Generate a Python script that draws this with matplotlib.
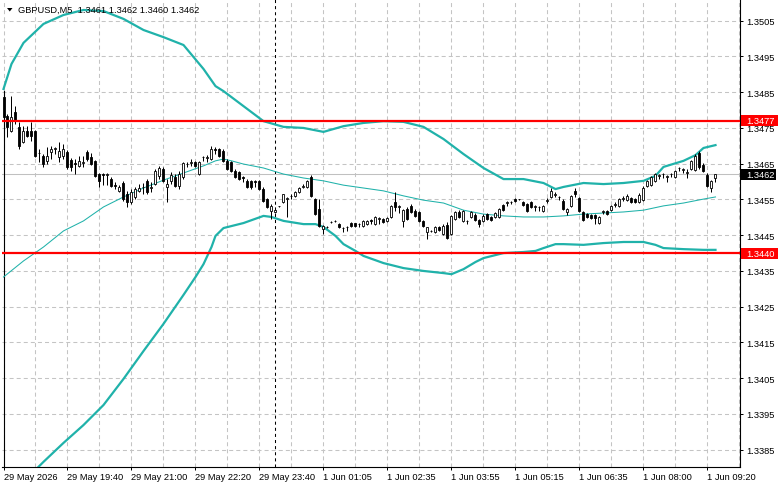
import matplotlib
matplotlib.use("Agg")
import matplotlib.pyplot as plt
import matplotlib.transforms as mtransforms
from matplotlib.patches import Rectangle, Polygon

plt.rcParams['font.family'] = ['Liberation Sans', 'DejaVu Sans']
plt.rcParams['lines.scale_dashes'] = False

# ---------------- data ----------------
symbol = "GBPUSD,M5"
last_ohlc = [1.3461, 1.3462, 1.3460, 1.3462]

open_ = [1.34836, 1.34783, 1.34741, 1.34795, 1.34753, 1.34711, 1.34741, 1.34741, 1.34741, 1.34680,
         1.34671, 1.34658, 1.34683, 1.34691, 1.34669, 1.34671, 1.34683, 1.34660, 1.34652, 1.34644,
         1.34652, 1.34683, 1.34669, 1.34658, 1.34621, 1.34621, 1.34618, 1.34607, 1.34590, 1.34574,
         1.34596, 1.34565, 1.34543, 1.34557, 1.34574, 1.34585, 1.34602, 1.34582, 1.34593, 1.34616,
         1.34635, 1.34585, 1.34602, 1.34613, 1.34588, 1.34613, 1.34649, 1.34652, 1.34655, 1.34621,
         1.34669, 1.34666, 1.34663, 1.34691, 1.34691, 1.34686, 1.34658, 1.34655, 1.34630, 1.34627,
         1.34613, 1.34602, 1.34602, 1.34602, 1.34602, 1.34579, 1.34551, 1.34518, 1.34515, 1.34532,
         1.34543, 1.34551, 1.34560, 1.34560, 1.34571, 1.34585, 1.34585, 1.34613, 1.34551, 1.34523,
         1.34467, 1.34473, 1.34487, 1.34490, 1.34481, 1.34470, 1.34473, 1.34484, 1.34484, 1.34481,
         1.34476, 1.34481, 1.34492, 1.34481, 1.34495, 1.34495, 1.34490, 1.34501, 1.34543, 1.34529,
         1.34490, 1.34523, 1.34532, 1.34518, 1.34515, 1.34490, 1.34459, 1.34462, 1.34459, 1.34473,
         1.34453, 1.34478, 1.34453, 1.34495, 1.34515, 1.34490, 1.34490, 1.34501, 1.34506, 1.34492,
         1.34490, 1.34509, 1.34501, 1.34501, 1.34501, 1.34534, 1.34540, 1.34543, 1.34551, 1.34551,
         1.34543, 1.34537, 1.34543, 1.34529, 1.34529, 1.34518, 1.34546, 1.34557, 1.34562, 1.34557,
         1.34546, 1.34515, 1.34532, 1.34574, 1.34554, 1.34515, 1.34509, 1.34506, 1.34506, 1.34484,
         1.34515, 1.34518, 1.34520, 1.34534, 1.34532, 1.34551, 1.34548, 1.34554, 1.34551, 1.34543,
         1.34548, 1.34588, 1.34590, 1.34602, 1.34616, 1.34621, 1.34613, 1.34621, 1.34613, 1.34638,
         1.34632, 1.34624, 1.34635, 1.34632, 1.34680, 1.34646, 1.34618, 1.34582, 1.34610]

high = [1.34850, 1.34789, 1.34839, 1.34811, 1.34767, 1.34755, 1.34755, 1.34767, 1.34744, 1.34691,
        1.34677, 1.34697, 1.34699, 1.34697, 1.34711, 1.34705, 1.34688, 1.34666, 1.34663, 1.34671,
        1.34671, 1.34688, 1.34680, 1.34660, 1.34624, 1.34624, 1.34624, 1.34613, 1.34599, 1.34590,
        1.34602, 1.34574, 1.34579, 1.34585, 1.34593, 1.34596, 1.34607, 1.34599, 1.34635, 1.34644,
        1.34641, 1.34607, 1.34627, 1.34621, 1.34630, 1.34655, 1.34655, 1.34663, 1.34658, 1.34658,
        1.34671, 1.34674, 1.34699, 1.34697, 1.34694, 1.34691, 1.34663, 1.34658, 1.34635, 1.34630,
        1.34616, 1.34607, 1.34604, 1.34604, 1.34604, 1.34585, 1.34554, 1.34537, 1.34529, 1.34533,
        1.34565, 1.34557, 1.34565, 1.34574, 1.34585, 1.34593, 1.34604, 1.34618, 1.34554, 1.34551,
        1.34478, 1.34476, 1.34490, 1.34492, 1.34484, 1.34473, 1.34476, 1.34487, 1.34485, 1.34484,
        1.34492, 1.34492, 1.34495, 1.34504, 1.34501, 1.34498, 1.34501, 1.34534, 1.34571, 1.34534,
        1.34523, 1.34529, 1.34537, 1.34523, 1.34518, 1.34492, 1.34473, 1.34464, 1.34476, 1.34476,
        1.34481, 1.34487, 1.34506, 1.34518, 1.34520, 1.34520, 1.34492, 1.34518, 1.34512, 1.34495,
        1.34509, 1.34512, 1.34504, 1.34515, 1.34526, 1.34537, 1.34546, 1.34546, 1.34554, 1.34552,
        1.34546, 1.34540, 1.34546, 1.34534, 1.34532, 1.34534, 1.34554, 1.34582, 1.34571, 1.34560,
        1.34551, 1.34526, 1.34562, 1.34582, 1.34557, 1.34518, 1.34512, 1.34509, 1.34509, 1.34504,
        1.34520, 1.34520, 1.34534, 1.34543, 1.34554, 1.34560, 1.34565, 1.34557, 1.34554, 1.34568,
        1.34588, 1.34604, 1.34616, 1.34624, 1.34621, 1.34624, 1.34618, 1.34624, 1.34632, 1.34641,
        1.34638, 1.34635, 1.34660, 1.34677, 1.34686, 1.34652, 1.34624, 1.34604, 1.34620]

low = [1.34761, 1.34725, 1.34738, 1.34761, 1.34691, 1.34708, 1.34725, 1.34713, 1.34669, 1.34655,
       1.34641, 1.34649, 1.34663, 1.34677, 1.34655, 1.34663, 1.34635, 1.34630, 1.34621, 1.34641,
       1.34641, 1.34658, 1.34646, 1.34613, 1.34585, 1.34590, 1.34590, 1.34585, 1.34579, 1.34571,
       1.34546, 1.34529, 1.34537, 1.34551, 1.34571, 1.34565, 1.34565, 1.34571, 1.34590, 1.34607,
       1.34599, 1.34543, 1.34593, 1.34585, 1.34579, 1.34607, 1.34641, 1.34644, 1.34641, 1.34618,
       1.34658, 1.34655, 1.34660, 1.34677, 1.34669, 1.34655, 1.34632, 1.34627, 1.34610, 1.34604,
       1.34599, 1.34582, 1.34579, 1.34585, 1.34576, 1.34543, 1.34526, 1.34495, 1.34512, 1.34529,
       1.34540, 1.34501, 1.34551, 1.34557, 1.34568, 1.34582, 1.34582, 1.34557, 1.34506, 1.34473,
       1.34453, 1.34470, 1.34484, 1.34487, 1.34470, 1.34459, 1.34462, 1.34473, 1.34473, 1.34473,
       1.34473, 1.34478, 1.34481, 1.34478, 1.34481, 1.34484, 1.34487, 1.34498, 1.34518, 1.34512,
       1.34473, 1.34492, 1.34512, 1.34501, 1.34487, 1.34473, 1.34439, 1.34459, 1.34456, 1.34462,
       1.34450, 1.34439, 1.34450, 1.34492, 1.34498, 1.34487, 1.34481, 1.34498, 1.34490, 1.34473,
       1.34487, 1.34492, 1.34490, 1.34498, 1.34498, 1.34518, 1.34532, 1.34537, 1.34543, 1.34548,
       1.34532, 1.34515, 1.34526, 1.34518, 1.34518, 1.34515, 1.34540, 1.34554, 1.34557, 1.34548,
       1.34520, 1.34506, 1.34529, 1.34557, 1.34515, 1.34490, 1.34498, 1.34495, 1.34481, 1.34481,
       1.34509, 1.34506, 1.34518, 1.34529, 1.34529, 1.34546, 1.34546, 1.34540, 1.34540, 1.34540,
       1.34546, 1.34585, 1.34588, 1.34599, 1.34607, 1.34610, 1.34599, 1.34613, 1.34610, 1.34630,
       1.34624, 1.34610, 1.34632, 1.34630, 1.34635, 1.34627, 1.34585, 1.34571, 1.34600]

close = [1.34781, 1.34753, 1.34781, 1.34772, 1.34699, 1.34741, 1.34727, 1.34727, 1.34671, 1.34680,
         1.34649, 1.34671, 1.34691, 1.34694, 1.34686, 1.34691, 1.34641, 1.34641, 1.34649, 1.34658,
         1.34655, 1.34663, 1.34649, 1.34616, 1.34602, 1.34618, 1.34621, 1.34588, 1.34588, 1.34585,
         1.34551, 1.34543, 1.34571, 1.34579, 1.34582, 1.34584, 1.34571, 1.34585, 1.34630, 1.34638,
         1.34602, 1.34593, 1.34618, 1.34588, 1.34621, 1.34652, 1.34650, 1.34655, 1.34644, 1.34655,
         1.34668, 1.34669, 1.34691, 1.34688, 1.34671, 1.34658, 1.34635, 1.34630, 1.34613, 1.34607,
         1.34610, 1.34585, 1.34585, 1.34599, 1.34579, 1.34546, 1.34529, 1.34532, 1.34520, 1.34531,
         1.34565, 1.34554, 1.34559, 1.34571, 1.34582, 1.34588, 1.34602, 1.34560, 1.34509, 1.34476,
         1.34476, 1.34472, 1.34486, 1.34489, 1.34473, 1.34469, 1.34472, 1.34476, 1.34476, 1.34480,
         1.34490, 1.34490, 1.34490, 1.34501, 1.34498, 1.34487, 1.34498, 1.34532, 1.34529, 1.34532,
         1.34520, 1.34495, 1.34515, 1.34504, 1.34490, 1.34476, 1.34473, 1.34461, 1.34473, 1.34464,
         1.34476, 1.34442, 1.34504, 1.34515, 1.34501, 1.34518, 1.34489, 1.34515, 1.34492, 1.34481,
         1.34504, 1.34495, 1.34492, 1.34512, 1.34523, 1.34520, 1.34543, 1.34542, 1.34546, 1.34550,
         1.34534, 1.34518, 1.34529, 1.34532, 1.34528, 1.34532, 1.34548, 1.34574, 1.34565, 1.34556,
         1.34523, 1.34523, 1.34560, 1.34565, 1.34518, 1.34492, 1.34501, 1.34498, 1.34498, 1.34501,
         1.34518, 1.34509, 1.34532, 1.34537, 1.34551, 1.34554, 1.34560, 1.34543, 1.34543, 1.34562,
         1.34582, 1.34602, 1.34613, 1.34621, 1.34618, 1.34620, 1.34616, 1.34620, 1.34630, 1.34637,
         1.34635, 1.34627, 1.34658, 1.34671, 1.34641, 1.34630, 1.34588, 1.34602, 1.34620]

# Bollinger bands, read at selected bars
upper_bar = [0, 2, 5, 10, 15, 20, 25, 30, 35, 40, 45, 50, 53, 55, 60, 65, 70, 75, 80, 85, 90, 95,
             100, 105, 110, 115, 120, 125, 130, 135, 138, 140, 145, 150, 155, 160, 163, 165, 170,
             173, 175, 178]
upper_val = [1.34859, 1.34929, 1.34988, 1.35041, 1.35066, 1.35080, 1.35077, 1.35055, 1.35024,
             1.35004, 1.34982, 1.34915, 1.34867, 1.34853, 1.34811, 1.34769, 1.34753, 1.34750,
             1.34739, 1.34755, 1.34764, 1.34769, 1.34767, 1.34753, 1.34719, 1.34677, 1.34638,
             1.34607, 1.34607, 1.34596, 1.34579, 1.34585, 1.34596, 1.34593, 1.34596, 1.34602,
             1.34616, 1.34641, 1.34658, 1.34674, 1.34694, 1.34702]

middle_bar = [0, 5, 10, 15, 20, 25, 30, 35, 40, 45, 50, 53, 55, 57, 60, 65, 70, 75, 80, 85, 90,
              95, 100, 105, 110, 115, 120, 125, 130, 135, 140, 145, 150, 155, 160, 165, 170, 175,
              178]
middle_val = [1.34333, 1.34378, 1.34417, 1.34462, 1.34490, 1.34529, 1.34557, 1.34582, 1.34604,
              1.34624, 1.34644, 1.34658, 1.34663, 1.34658, 1.34649, 1.34638, 1.34621, 1.34610,
              1.34602, 1.34590, 1.34582, 1.34574, 1.34560, 1.34548, 1.34540, 1.34520, 1.34509,
              1.34504, 1.34501, 1.34501, 1.34504, 1.34509, 1.34512, 1.34515, 1.34520, 1.34532,
              1.34540, 1.34551, 1.34557]

lower_bar = [0, 5, 10, 15, 20, 25, 30, 35, 40, 45, 48, 50, 52, 53, 55, 60, 65, 67, 70, 75, 78, 80,
             83, 85, 88, 90, 95, 100, 105, 110, 112, 115, 118, 120, 125, 130, 133, 135, 138, 140,
             145, 150, 155, 160, 163, 165, 170, 175, 178]
lower_val = [1.33698, 1.33760, 1.33816, 1.33869, 1.33919, 1.33975, 1.34048, 1.34126, 1.34202,
             1.34283, 1.34333, 1.34369, 1.34417, 1.34448, 1.34470, 1.34484, 1.34504, 1.34501,
             1.34490, 1.34481, 1.34481, 1.34473, 1.34448, 1.34425, 1.34406, 1.34392, 1.34372,
             1.34358, 1.34350, 1.34344, 1.34341, 1.34355, 1.34375, 1.34386, 1.34400, 1.34403,
             1.34406, 1.34414, 1.34425, 1.34425, 1.34423, 1.34428, 1.34431, 1.34431, 1.34423,
             1.34414, 1.34411, 1.34409, 1.34409]

time_label_bars = [0, 16, 32, 48, 64, 80, 96, 112, 128, 144, 160, 176]
time_labels = ["29 May 2026", "29 May 19:40", "29 May 21:00", "29 May 22:20", "29 May 23:40",
               "1 Jun 01:05", "1 Jun 02:35", "1 Jun 03:55", "1 Jun 05:15", "1 Jun 06:35",
               "1 Jun 08:00", "1 Jun 09:20"]
price_ticks = [1.3385, 1.3395, 1.3405, 1.3415, 1.3425, 1.3435, 1.3445, 1.3455, 1.3465,
               1.3475, 1.3485, 1.3495, 1.3505]
grid_bars = [0, 8, 16, 24, 32, 40, 48, 56, 64, 72, 80, 88, 96, 104, 112, 120, 128, 136, 144,
             152, 160, 168, 176, 184]
levels = [1.3477, 1.3440]
bid = 1.3462
separator_bar = 68

# ---------------- layout ----------------
W, H = 781, 489
fig = plt.figure(figsize=(W / 100, H / 100), dpi=100)
L, R, T, B = 2.0, 740.5, 0.0, 467.5
ax = fig.add_axes([L / W, 1 - B / H, (R - L) / W, (B - T) / H])
ax.set_xlim(-0.375, 184.25)
ax.set_ylim(1.338030, 1.351107)
axw = R - L
px_price = (1.351107 - 1.338030) / (B - T)

for s in ['top', 'left']:
    ax.spines[s].set_visible(False)
for s in ['right', 'bottom']:
    ax.spines[s].set_color('black')
    ax.spines[s].set_linewidth(0.8)

ax.yaxis.tick_right()
ax.set_yticks(price_ticks)
ax.set_yticklabels([f"{p:.4f}" for p in price_ticks])
ax.set_xticks(time_label_bars)
ax.set_xticklabels(time_labels, ha='left')
ax.tick_params(axis='both', direction='out', length=2.3, width=0.72, labelsize=6.7,
               colors='black')
ax.tick_params(axis='y', pad=2.2)
ax.tick_params(axis='x', pad=1.6)

GRID = '#C4C4C4'
for p in price_ticks:
    ax.axhline(p, color=GRID, lw=0.75, dashes=(2.9, 2.2), zorder=0.5)
for b in grid_bars:
    ax.axvline(b, color=GRID, lw=0.75, dashes=(2.9, 2.2), zorder=0.5)
ax.axvline(separator_bar, color='black', lw=0.75, dashes=(2.2, 2.2), zorder=0.8)
ax.axhline(bid, color='#C0C0C0', lw=0.75, zorder=0.9)
ax.axvline(0, ymin=0, ymax=(B - 92) / (B - T), color='black', lw=0.8, zorder=1)

TEAL = '#20B2AA'
ax.plot(upper_bar, upper_val, color=TEAL, lw=1.6, zorder=3, solid_joinstyle='round')
ax.plot(middle_bar, middle_val, color=TEAL, lw=0.75, zorder=3)
ax.plot(lower_bar, lower_val, color=TEAL, lw=1.6, zorder=3, solid_joinstyle='round')

idx = list(range(len(open_)))
ax.vlines(idx, low, high, color='black', lw=0.72, zorder=4)
bottoms = [min(o, c) for o, c in zip(open_, close)]
heights = [abs(c - o) for o, c in zip(open_, close)]
faces = ['white' if c > o else 'black' for o, c in zip(open_, close)]
ax.bar(idx, heights, bottom=bottoms, width=0.5, color=faces, edgecolor='black',
       linewidth=0.6, zorder=5)

for lv in levels:
    ax.axhline(lv, color='#FF0000', lw=1.6, zorder=6)

blend = mtransforms.blended_transform_factory(ax.transAxes, ax.transData)
box_h = 11 * px_price
box_x0 = 1 + 1.0 / axw
for lv, fc, bw in [(levels[0], '#FF0000', 37.0), (levels[1], '#FF0000', 37.0), (bid, 'black', 35.0)]:
    ax.add_patch(Rectangle((box_x0, lv - box_h / 2), bw / axw, box_h, transform=blend,
                           facecolor=fc, edgecolor='none', clip_on=False, zorder=10))
    ax.text(box_x0 + 5.0 / axw, lv, f"{lv:.4f}", transform=blend, color='white',
            fontsize=6.7, va='center', ha='left', clip_on=False, zorder=11)

# title
tri = Polygon([(7 / W, 1 - 9 / H), (12.5 / W, 1 - 9 / H), (9.75 / W, 1 - 12.5 / H)],
              closed=True, transform=fig.transFigure, facecolor='black', edgecolor='none')
fig.add_artist(tri)
title = symbol + "  " + " ".join(f"{v:.4f}" for v in last_ohlc)
fig.text(18 / W, 1 - 10.8 / H, title, fontsize=6.7, va='center', ha='left', zorder=2)

fig.savefig('out.png', dpi=100, facecolor='white')
